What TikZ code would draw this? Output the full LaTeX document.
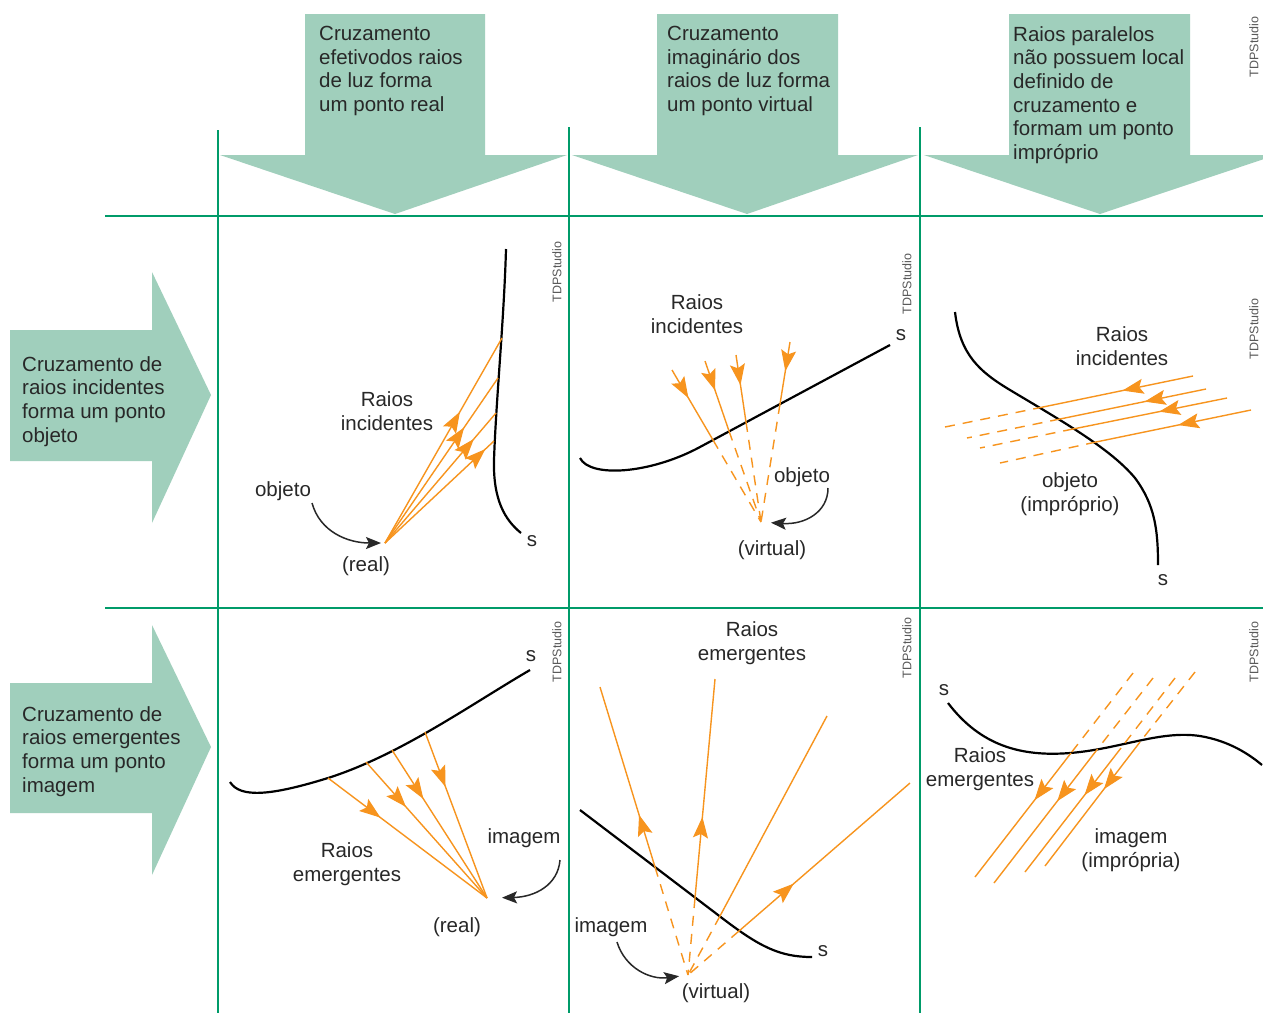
\documentclass[tikz,border=0pt]{standalone}
\usepackage{fontspec}
\setmainfont{Liberation Sans}
\usetikzlibrary{arrows.meta, decorations.markings}

\definecolor{setaverde}{RGB}{160,207,188}
\definecolor{gradeverde}{RGB}{0,155,105}
\definecolor{raiolaranja}{RGB}{247,148,30}
\definecolor{textocinza}{RGB}{40,40,40}

\begin{document}
\begin{tikzpicture}[
  x=1pt, y=-1pt,
  font=\fontsize{20.5}{23.7}\selectfont,
  >=Stealth,
  faixa/.style={fill=setaverde, draw=none},
  grade/.style={draw=gradeverde, line width=2.6pt},
  rotulo/.style={text=textocinza, inner sep=0pt, align=center},
  chamada/.style={text=textocinza, inner sep=0pt, align=left, anchor=north west},
  marca/.style={text=black!65, inner sep=0pt, rotate=90, font=\fontsize{12.5}{14}\selectfont},
  superficie/.style={draw=black, line width=2.2pt},
  raio/.style={draw=raiolaranja, line width=1.4pt},
  prolong/.style={raio, dash pattern=on 10pt off 8pt},
  seta/.style={postaction={decorate}, decoration={markings, mark=at position #1 with {\arrow[raiolaranja, line width=1pt]{Stealth[length=21pt,width=15pt,inset=4pt]}}}},
  aponta/.style={draw=textocinza, line width=1.5pt, -{Stealth[length=15pt,width=12pt,inset=3pt]}}
]
\useasboundingbox (0,0) rectangle (1263,1013);
\fill[white] (0,0) rectangle (1263,1013);

% Column arrows
\fill[faixa] (305,14) -- (485,14) -- (485,155) -- (567,155) -- (395,214) -- (220,155) -- (305,155) -- cycle;
\fill[faixa] (657,14) -- (838,14) -- (838,155) -- (918,155) -- (747,214) -- (572,155) -- (657,155) -- cycle;
\fill[faixa] (1009,14) -- (1190,14) -- (1190,155) -- (1276,155) -- (1100,214) -- (924,155) -- (1009,155) -- cycle;
\node[chamada] (cab1) at (319,26) {Cruzamento\\efetivodos raios\\de luz forma\\um ponto real};
\node[chamada] (cab2) at (667,26) {Cruzamento\\imaginário dos\\raios de luz forma\\um ponto virtual};
\node[chamada] (cab3) at (1013,26) {Raios paralelos\\não possuem local\\definido de\\cruzamento e\\formam um ponto\\impróprio};

% Row arrows
\fill[faixa] (10,330) -- (152,330) -- (152,272) -- (211,395) -- (152,523) -- (152,461) -- (10,461) -- cycle;
\fill[faixa] (10,683) -- (152,683) -- (152,625) -- (211,747) -- (152,875) -- (152,813) -- (10,813) -- cycle;
\node[chamada] (lin1) at (22,356) {Cruzamento de\\raios incidentes\\forma um ponto\\objeto};
\node[chamada] (lin2) at (22,706) {Cruzamento de\\raios emergentes\\forma um ponto\\imagem};

% Grid
\draw[grade] (105,216) -- (1263,216);
\draw[grade] (105,608) -- (1263,608);
\draw[grade] (218,130) -- (218,1013);
\draw[grade] (569,127) -- (569,1013);
\draw[grade] (920,127) -- (920,1013);

% Real object
\draw[superficie] (506,249) .. controls (504,320) and (496,400) .. (494,460) .. controls (493,500) and (505,520) .. (521,533);
\node[rotulo] (sA) at (532,541) {s};
\coordinate (oA) at (385,543);
\coordinate (a1) at (502,338);
\coordinate (a2) at (498,378);
\coordinate (a3) at (496,413);
\coordinate (a4) at (494,441);
\foreach \i/\p in {1/0.64, 2/0.70, 3/0.80, 4/0.92}
  \draw[raio, seta=\p] (oA) -- (a\i);
\node[rotulo] (incA) at (387,411) {Raios\\incidentes};
\node[rotulo] (objA) at (283,491) {objeto};
\node[rotulo] (realA) at (366,566) {(real)};
\coordinate (pA) at (312,503);
\draw[aponta, shorten >=4pt] (pA) .. controls (320,532) and (348,543) .. (oA);
\node[marca] (tdpA) at (557,272) {TDPStudio};

% Virtual object
\draw[superficie] (580,458) .. controls (590,478) and (650,474) .. (700,447) -- (890,345);
\node[rotulo] (sB) at (901,335) {s};
\coordinate (vB) at (761,522);
\coordinate (bt1) at (672,370); \coordinate (b1) at (713,440);
\coordinate (bt2) at (705,361); \coordinate (b2) at (729,431);
\coordinate (bt3) at (736,355); \coordinate (b3) at (746,422);
\coordinate (bt4) at (790,342); \coordinate (b4) at (780,404);
\foreach \i/\p in {1/0.40, 2/0.42, 3/0.45, 4/0.47} {
  \draw[raio, seta=\p] (bt\i) -- (b\i);
  \draw[prolong] (b\i) -- (vB);
}
\node[rotulo] (incB) at (697,314) {Raios\\incidentes};
\node[rotulo] (objB) at (802,477) {objeto};
\node[rotulo] (virtB) at (772,550) {(virtual)};
\coordinate (pB) at (828,488);
\draw[aponta, shorten >=10pt] (pB) .. controls (828,512) and (805,525) .. (vB);
\node[marca] (tdpB) at (907,284) {TDPStudio};

% Improper object
\draw[superficie] (955,312) .. controls (960,355) and (980,372) .. (1010,390) .. controls (1060,420) and (1110,448) .. (1135,478) .. controls (1155,505) and (1158,530) .. (1158,565);
\node[rotulo] (sC) at (1163,580) {s};
\coordinate (ct1) at (1193,376); \coordinate (c1) at (1043,407); \coordinate (cf1) at (945,427);
\coordinate (ct2) at (1206,389); \coordinate (c2) at (1060,419); \coordinate (cf2) at (967,438);
\coordinate (ct3) at (1227,398); \coordinate (c3) at (1073,429); \coordinate (cf3) at (980,448);
\coordinate (ct4) at (1251,410); \coordinate (c4) at (1096,442); \coordinate (cf4) at (1000,463);
\foreach \i/\p in {1/0.47, 2/0.42, 3/0.44, 4/0.47} {
  \draw[raio, seta=\p] (ct\i) -- (c\i);
  \draw[prolong] (c\i) -- (cf\i);
}
\node[rotulo] (incC) at (1122,346) {Raios\\incidentes};
\node[rotulo] (objC) at (1070,494) {objeto\\(impróprio)};
\node[marca] (tdpC) at (1254,329) {TDPStudio};
\node[marca] (tdpT) at (1254,47) {TDPStudio};

% Real image
\draw[superficie] (230,782) .. controls (240,798) and (270,796) .. (328,778) .. controls (400,755) and (470,705) .. (530,670);
\node[rotulo] (sD) at (531,656) {s};
\coordinate (iD) at (487,898);
\coordinate (d1) at (328,778);
\coordinate (d2) at (366,762);
\coordinate (d3) at (392,750);
\coordinate (d4) at (425,732);
\foreach \i in {1,...,4}
  \draw[raio, seta=0.33] (d\i) -- (iD);
\node[rotulo] (emD) at (347,864) {Raios\\emergentes};
\node[rotulo] (imgD) at (524,838) {imagem};
\node[rotulo] (realD) at (457,927) {(real)};
\coordinate (pD) at (560,860);
\draw[aponta, shorten >=15pt] (pD) .. controls (558,885) and (535,897) .. (iD);
\node[marca] (tdpD) at (557,652) {TDPStudio};

% Virtual image
\draw[superficie] (580,810) -- (722,918) .. controls (760,947) and (780,957) .. (812,957);
\node[rotulo] (sE) at (823,951) {s};
\coordinate (vE) at (688,975);
\coordinate (e1) at (655,867); \coordinate (et1) at (600,687);
\coordinate (e2) at (695,898); \coordinate (et2) at (715,679);
\coordinate (e3) at (720,916); \coordinate (et3) at (827,716);
\coordinate (e4) at (739,931); \coordinate (et4) at (910,783);
\foreach \i/\p in {1/0.29, 2/0.37, 4/0.32}
  \draw[raio, seta=\p] (e\i) -- (et\i);
\draw[raio] (e3) -- (et3);
\foreach \i in {1,...,4}
  \draw[prolong] (e\i) -- (vE);
\node[rotulo] (emE) at (752,643) {Raios\\emergentes};
\node[rotulo] (imgE) at (611,927) {imagem};
\node[rotulo] (virtE) at (716,993) {(virtual)};
\coordinate (pE) at (617,942);
\draw[aponta, shorten >=9pt] (pE) .. controls (625,968) and (650,980) .. (vE);
\node[marca] (tdpE) at (907,648) {TDPStudio};

% Improper image
\draw[superficie] (948,703) .. controls (980,745) and (1020,757) .. (1070,753) .. controls (1120,749) and (1160,730) .. (1200,736) .. controls (1230,741) and (1250,755) .. (1262,765);
\node[rotulo] (sF) at (944,690) {s};
\coordinate (ft1) at (1133,673); \coordinate (f1) at (1071,753); \coordinate (fb1) at (975,877);
\coordinate (ft2) at (1153,678); \coordinate (f2) at (1096,751); \coordinate (fb2) at (994,883);
\coordinate (ft3) at (1175,678); \coordinate (f3) at (1121,748); \coordinate (fb3) at (1025,872);
\coordinate (ft4) at (1195,672); \coordinate (f4) at (1140,742); \coordinate (fb4) at (1045,866);
\foreach \i in {1,...,4} {
  \draw[prolong] (ft\i) -- (f\i);
  \draw[raio, seta=0.38] (f\i) -- (fb\i);
}
\node[rotulo] (emF) at (980,769) {Raios\\emergentes};
\node[rotulo] (imgF) at (1131,850) {imagem\\(imprópria)};
\node[marca] (tdpF) at (1254,652) {TDPStudio};

\end{tikzpicture}
\end{document}
